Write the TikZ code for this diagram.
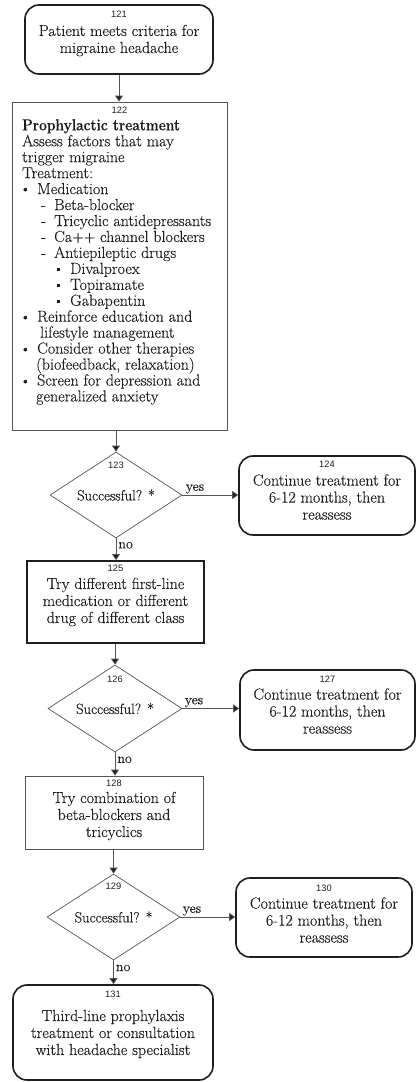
\documentclass[tikz,border=0pt]{standalone}
\usepackage{fontspec}
\setmainfont{Latin Modern Roman}[FakeBold=0.2]
\newfontfamily\numfont{Liberation Sans}
\usetikzlibrary{shapes.geometric,arrows.meta,calc}
\definecolor{ink}{HTML}{1E1E1E}
\definecolor{linec}{HTML}{555555}
\newcommand{\lvone}[1]{\makebox[15pt][l]{\hspace*{1pt}\raisebox{1.3pt}{\scalebox{0.55}{$\bullet$}}}#1}
\newcommand{\lvtwo}[1]{\hspace*{19pt}\makebox[13pt][l]{-}#1}
\newcommand{\lvthree}[1]{\hspace*{35pt}\makebox[13pt][l]{\raisebox{2.8pt}{\rule{3pt}{3pt}}}#1}
\begin{document}
\begin{tikzpicture}[x=1pt,y=-1pt,
  txt/.style={font=\fontsize{16}{17}\selectfont, text=ink, align=center, inner sep=0pt},
  rbox/.style={draw=ink, line width=1.6pt, rounded corners=14pt, inner sep=0pt},
  pbox/.style={draw=linec, line width=0.8pt, inner sep=0pt},
  tbox/.style={draw=ink, line width=1.8pt, inner sep=0pt},
  dec/.style={diamond, aspect=1.5, draw=linec, line width=0.7pt, inner sep=0pt, font=\fontsize{14.7}{16}\selectfont, text=ink},
  num/.style={font=\numfont\fontsize{9.3}{9.3}\selectfont, text=ink, inner sep=0pt},
  arr/.style={draw=linec, line width=0.8pt, -{Triangle[length=6pt,width=8pt,fill=ink]}},
  lab/.style={font=\fontsize{14}{14}\selectfont, text=ink, inner sep=1pt},
]
\useasboundingbox (0,0) rectangle (417,1082);

% 121
\node[rbox, minimum width=188pt, minimum height=69pt] (n121) at (119,39.5) {};
\node[num] (l121) at (119,14) {121};
\node[txt] (t121) at (119,40.5) {Patient meets criteria for\\migraine headache};

% 122
\node[pbox, minimum width=215pt, minimum height=328pt] (n122) at (119.5,266) {};
\node[num] (l122) at (119.5,110) {122};
\node[txt, align=left, anchor=north west, font=\fontsize{16}{15.95}\selectfont] (t122) at (22,119) {%
\scalebox{0.86}[1]{\textbf{Prophylactic treatment}}\\
Assess factors that may\\
trigger migraine\\
Treatment:\\
\lvone{Medication}\\
\lvtwo{Beta-blocker}\\
\lvtwo{Tricyclic antidepressants}\\
\lvtwo{Ca++ channel blockers}\\
\lvtwo{Antiepileptic drugs}\\
\lvthree{Divalproex}\\
\lvthree{Topiramate}\\
\lvthree{Gabapentin}\\
\lvone{Reinforce education and}\\
\hspace*{18pt}lifestyle management\\
\lvone{Consider other therapies}\\
\hspace*{14pt}(biofeedback, relaxation)\\
\lvone{Screen for depression and}\\
\hspace*{14pt}generalized anxiety};

% 123
\node[dec, minimum width=132pt, minimum height=86pt] (n123) at (116,495) {Successful? *};
\node[num] (l123) at (116,465) {123};

% 124
\node[rbox, minimum width=176pt, minimum height=79pt] (n124) at (327,495.5) {};
\node[num] (l124) at (327,464) {124};
\node[txt] (t124) at (327,497) {Continue treatment for\\6-12 months, then\\reassess};

% 125
\node[tbox, minimum width=177pt, minimum height=82pt] (n125) at (115.5,602) {};
\node[num] (l125) at (115.5,568) {125};
\node[txt] (t125) at (115.5,602) {Try different first-line\\medication or different\\drug of different class};

% 126
\node[dec, minimum width=134pt, minimum height=87pt] (n126) at (115,708.5) {Successful? *};
\node[num] (l126) at (115,679) {126};

% 127
\node[rbox, minimum width=175pt, minimum height=80pt] (n127) at (327.5,710) {};
\node[num] (l127) at (327.5,679) {127};
\node[txt] (t127) at (327.5,711) {Continue treatment for\\6-12 months, then\\reassess};

% 128
\node[pbox, minimum width=178pt, minimum height=73pt] (n128) at (114,812.5) {};
\node[num] (l128) at (114,783) {128};
\node[txt] (t128) at (114,816) {Try combination of\\beta-blockers and\\tricyclics};

% 129
\node[dec, minimum width=133pt, minimum height=86pt] (n129) at (113.5,917) {Successful? *};
\node[num] (l129) at (113.5,886) {129};

% 130
\node[rbox, minimum width=176pt, minimum height=79pt] (n130) at (324,917.5) {};
\node[num] (l130) at (324,888) {130};
\node[txt] (t130) at (324,920) {Continue treatment for\\6-12 months, then\\reassess};

% 131
\node[rbox, minimum width=200pt, minimum height=95pt] (n131) at (113,1032.5) {};
\node[num] (l131) at (113,994) {131};
\node[txt] (t131) at (113,1034) {Third-line prophylaxis\\treatment or consultation\\with headache specialist};

% connectors
\draw[arr] (n121.south) -- (n121.south |- n122.north);
\draw[arr] (n123.north |- n122.south) -- (n123.north);
\draw[arr] (n123.east) -- (n123.east -| n124.west) node[lab, pos=0, anchor=south west, xshift=2pt] {yes};
\draw[arr] (n123.south) -- (n123.south |- n125.north) node[lab, pos=0.32, anchor=west, xshift=1pt] {no};
\draw[arr] (n126.north |- n125.south) -- (n126.north);
\draw[arr] (n126.east) -- (n126.east -| n127.west) node[lab, pos=0, anchor=south west, xshift=1pt] {yes};
\draw[arr] (n126.south) -- (n126.south |- n128.north) node[lab, pos=0.32, anchor=west, xshift=1pt] {no};
\draw[arr] (n129.north |- n128.south) -- (n129.north);
\draw[arr] (n129.east) -- (n129.east -| n130.west) node[lab, pos=0, anchor=south west, xshift=1pt] {yes};
\draw[arr] (n129.south) -- (n129.south |- n131.north) node[lab, pos=0.32, anchor=west, xshift=1pt] {no};
\end{tikzpicture}
\end{document}
